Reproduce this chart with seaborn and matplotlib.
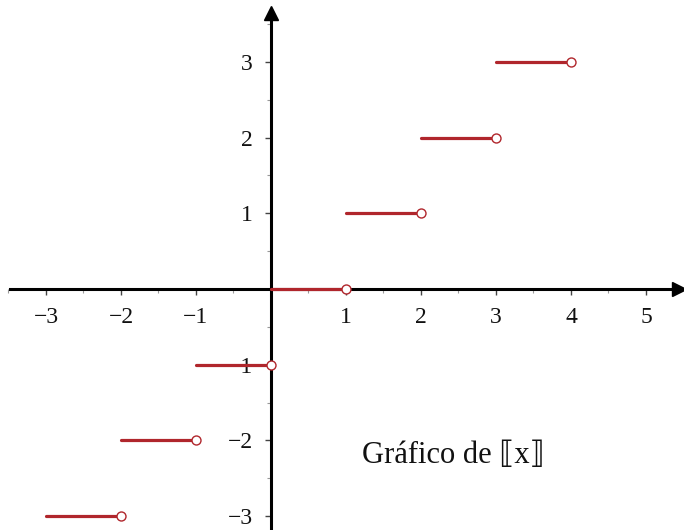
import numpy as np
import pandas as pd
import matplotlib
matplotlib.use("Agg")
import matplotlib.pyplot as plt
import seaborn as sns

# step function floor(x): each step k covers [k, k+1)
steps = [-3, -2, -1, 0, 1, 2, 3]
x_ticks = [-3, -2, -1, 1, 2, 3, 4, 5]
y_ticks = [-3, -2, -1, 1, 2, 3]
title = "Gráfico de ⟦x⟧"

red = "#b0262c"

rows = []
for k in steps:
    rows.append({"seg": k, "x": k, "y": k})
    rows.append({"seg": k, "x": k + 1, "y": k})
seg_df = pd.DataFrame(rows)
open_df = pd.DataFrame({"x": [k + 1 for k in steps], "y": steps})

sns.set_style("white")
plt.rcParams["font.family"] = ["Liberation Serif", "DejaVu Serif", "DejaVu Sans"]

fig = plt.figure(figsize=(6.84, 5.30), dpi=100)
ax = fig.add_axes([0, 0, 1, 1])
ax.set_xlim(-3.613, 5.507)
ax.set_ylim(-3.184, 3.818)

for side in ["top", "right"]:
    ax.spines[side].set_visible(False)
ax.spines["left"].set_position(("data", 0))
ax.spines["bottom"].set_position(("data", 0))
for side in ["left", "bottom"]:
    ax.spines[side].set_linewidth(2.2)
    ax.spines[side].set_color("black")
    ax.spines[side].set_zorder(1)
ax.spines["bottom"].set_bounds(-3.48, 5.42)
ax.spines["left"].set_bounds(-3.184, 3.62)

# arrow heads
ax.plot(5.44, 0, marker=">", markersize=10, color="black", clip_on=False, zorder=2)
ax.plot(0, 3.64, marker="^", markersize=10, color="black", clip_on=False, zorder=2)

sns.lineplot(data=seg_df, x="x", y="y", units="seg", estimator=None,
             color=red, linewidth=2.3, ax=ax, zorder=3)
sns.scatterplot(data=open_df, x="x", y="y", s=42, facecolor="white",
                edgecolor=red, linewidth=1.0, ax=ax, zorder=4)

ax.set_xticks(x_ticks)
ax.set_yticks(y_ticks)
ax.set_xticklabels([f"\u2212{-t}" if t < 0 else str(t) for t in x_ticks])
ax.set_yticklabels([f"\u2212{-t}" if t < 0 else str(t) for t in y_ticks])
ax.set_xticks(np.arange(-3.5, 5.5, 0.5), minor=True)
ax.set_yticks(np.arange(-3, 3.6, 0.5), minor=True)
ax.tick_params(axis="both", which="both", bottom=True, left=True)
ax.tick_params(axis="both", which="major", direction="out", length=4, width=1,
               color="#444444", labelsize=17, pad=9, labelcolor="#111111")
ax.tick_params(axis="both", which="minor", direction="out", length=3, width=0.8,
               color="#999999")
ax.set_xlabel("")
ax.set_ylabel("")

ax.text(1.22, -2.2, title, fontsize=22, va="center", ha="left",
        color="#111111",
        family=["Liberation Serif", "DejaVu Serif", "DejaVu Sans"])

fig.savefig("out.png", dpi=100)
